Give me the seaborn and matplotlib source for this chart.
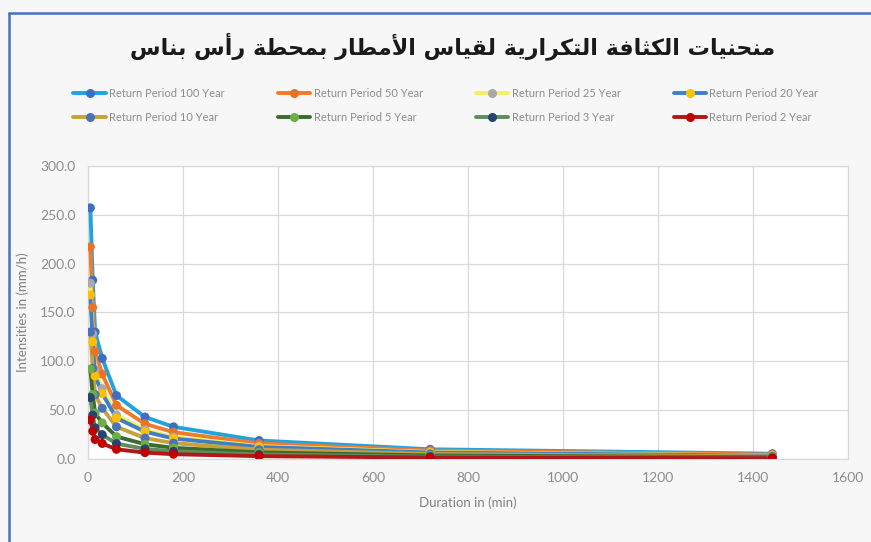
import numpy as np
import pandas as pd
import matplotlib
matplotlib.use("Agg")
import matplotlib.pyplot as plt
import seaborn as sns
from matplotlib.lines import Line2D

# ---------------- data ----------------
durations = [5, 10, 15, 30, 60, 120, 180, 360, 720, 1440]
series_names = ["Return Period 100 Year", "Return Period 50 Year", "Return Period 25 Year",
                "Return Period 20 Year", "Return Period 10 Year", "Return Period 5 Year",
                "Return Period 3 Year", "Return Period 2 Year"]
rp100 = [257, 183, 130, 103, 65, 43, 33, 19, 10, 5.5]
rp50 = [217, 155, 110, 87, 55, 36, 27.5, 16, 8.7, 4.6]
rp25 = [180, 128, 91, 72, 45, 30, 22.5, 13.3, 7.2, 3.8]
rp20 = [168, 120, 85, 67, 42, 28, 21, 12.4, 6.7, 3.5]
rp10 = [130, 93, 66, 52, 33, 21.5, 16.3, 9.6, 5.2, 2.7]
rp5 = [92, 66, 47, 37, 23, 15.2, 11.5, 6.8, 3.7, 1.9]
rp3 = [63, 45, 32, 25, 15.8, 10.4, 7.9, 4.7, 2.5, 1.3]
rp2 = [40, 28.5, 20, 16, 10, 6.6, 5.0, 3.0, 1.6, 0.85]
all_series = [rp100, rp50, rp25, rp20, rp10, rp5, rp3, rp2]

title_text = "منحنيات الكثافة التكرارية لقياس الأمطار بمحطة رأس بناس"
x_label = "Duration in (min)"
y_label = "Intensities in (mm/h)"

line_colors = ["#22A3DE", "#EF7B2D", "#F2EE6A", "#3F7FC6", "#C7A13C", "#3B6B2E", "#5E8E5C", "#B31717"]
marker_colors = ["#3C6FC2", "#E97428", "#A9A9A9", "#FFC000", "#4A72B6", "#6FAE46", "#25446F", "#C00000"]

# ---------------- Arabic shaping (presentation forms) ----------------
FORMS = {
    'ا': ('\uFE8D', '\uFE8E', None, None),
    'أ': ('\uFE83', '\uFE84', None, None),
    'ب': ('\uFE8F', '\uFE90', '\uFE91', '\uFE92'),
    'ة': ('\uFE93', '\uFE94', None, None),
    'ت': ('\uFE95', '\uFE96', '\uFE97', '\uFE98'),
    'ث': ('\uFE99', '\uFE9A', '\uFE9B', '\uFE9C'),
    'ح': ('\uFEA1', '\uFEA2', '\uFEA3', '\uFEA4'),
    'ر': ('\uFEAD', '\uFEAE', None, None),
    'س': ('\uFEB1', '\uFEB2', '\uFEB3', '\uFEB4'),
    'ط': ('\uFEC1', '\uFEC2', '\uFEC3', '\uFEC4'),
    'ف': ('\uFED1', '\uFED2', '\uFED3', '\uFED4'),
    'ق': ('\uFED5', '\uFED6', '\uFED7', '\uFED8'),
    'ك': ('\uFED9', '\uFEDA', '\uFEDB', '\uFEDC'),
    'ل': ('\uFEDD', '\uFEDE', '\uFEDF', '\uFEE0'),
    'م': ('\uFEE1', '\uFEE2', '\uFEE3', '\uFEE4'),
    'ن': ('\uFEE5', '\uFEE6', '\uFEE7', '\uFEE8'),
    'ي': ('\uFEF1', '\uFEF2', '\uFEF3', '\uFEF4'),
}


def shape_arabic(text):
    chars = []
    i = 0
    while i < len(text):
        if text[i] == 'ل' and i + 1 < len(text) and text[i + 1] == 'أ':
            chars.append('LA')
            i += 2
        else:
            chars.append(text[i])
            i += 1

    def joins_forward(c):
        if c == 'LA':
            return False
        f = FORMS.get(c)
        return f is not None and f[2] is not None

    def is_ar(c):
        return c == 'LA' or c in FORMS

    out = []
    for k, c in enumerate(chars):
        prev = chars[k - 1] if k > 0 else None
        nxt = chars[k + 1] if k + 1 < len(chars) else None
        jp = prev is not None and joins_forward(prev)
        if c == 'LA':
            out.append('\uFEF8' if jp else '\uFEF7')
            continue
        if c not in FORMS:
            out.append(c)
            continue
        jn = nxt is not None and is_ar(nxt) and joins_forward(c)
        iso, fin, ini, med = FORMS[c]
        if jp and jn:
            out.append(med)
        elif jp:
            out.append(fin)
        elif jn:
            out.append(ini)
        else:
            out.append(iso)
    return ''.join(reversed(out))


# ---------------- build long table ----------------
rows = []
for name, vals in zip(series_names, all_series):
    for d, v in zip(durations, vals):
        rows.append({"Duration": d, "Intensity": v, "Series": name})
df = pd.DataFrame(rows)

sns.set_theme(style="white")
plt.rcParams['font.family'] = ['Lato', 'DejaVu Sans']

fig = plt.figure(figsize=(8.71, 5.42), dpi=100)
fig.patch.set_facecolor("#F7F7F7")
ax = fig.add_axes([0.101, 0.153, 0.873, 0.541])
ax.set_facecolor("white")

line_pal = dict(zip(series_names, line_colors))
mark_pal = dict(zip(series_names, marker_colors))

sns.lineplot(data=df, x="Duration", y="Intensity", hue="Series", palette=line_pal,
             hue_order=series_names, linewidth=2.8, legend=False, ax=ax, sort=False, zorder=3)
sns.scatterplot(data=df, x="Duration", y="Intensity", hue="Series", palette=mark_pal,
                hue_order=series_names, s=42, edgecolor="none", legend=False, ax=ax, zorder=4)

ax.set_xlim(0, 1600)
ax.set_ylim(0, 300)
ax.set_xticks(np.arange(0, 1601, 200))
ax.set_yticks(np.arange(0, 301, 50))
ax.set_yticklabels([f"{v:.1f}" for v in np.arange(0, 301, 50)])
ax.grid(True, color="#D9D9D9", linewidth=0.9)
ax.set_axisbelow(True)
for s in ax.spines.values():
    s.set_color("#D9D9D9")
    s.set_linewidth(0.9)
ax.tick_params(axis="both", colors="#8C8C8C", labelsize=10, length=0, pad=9)

ax.set_xlabel(x_label, color="#808080", fontsize=9.5, labelpad=9)
ax.set_ylabel(y_label, color="#808080", fontsize=9.5, labelpad=8)

fig.text(0.52, 0.915, shape_arabic(title_text), ha="center", va="center",
         fontsize=16, fontweight="bold", color="#1A1A1A", family=['DejaVu Sans'])

handles = [Line2D([0], [0], color=lc, lw=2.8, marker="o", markersize=5.5,
                  markerfacecolor=mc, markeredgecolor=mc)
           for lc, mc in zip(line_colors, marker_colors)]
# reorder so legend reads row by row (matplotlib fills columns first)
order = [0, 4, 1, 5, 2, 6, 3, 7]
leg = fig.legend([handles[i] for i in order], [series_names[i] for i in order],
                 loc="center", bbox_to_anchor=(0.512, 0.806),
                 ncol=4, frameon=False, fontsize=8, handlelength=2.9,
                 columnspacing=4.8, handletextpad=0.3, labelspacing=1.15)
for t in leg.get_texts():
    t.set_color("#8C8C8C")

# screenshot frame lines (left and top)
fig.add_artist(Line2D([9 / 871, 9 / 871], [0, 1 - 13 / 542], transform=fig.transFigure,
                      color="#4472C4", lw=1.8))
fig.add_artist(Line2D([9 / 871, 1], [1 - 13 / 542, 1 - 13 / 542], transform=fig.transFigure,
                      color="#4472C4", lw=1.8))

fig.savefig("out.png", dpi=100, facecolor=fig.get_facecolor())
